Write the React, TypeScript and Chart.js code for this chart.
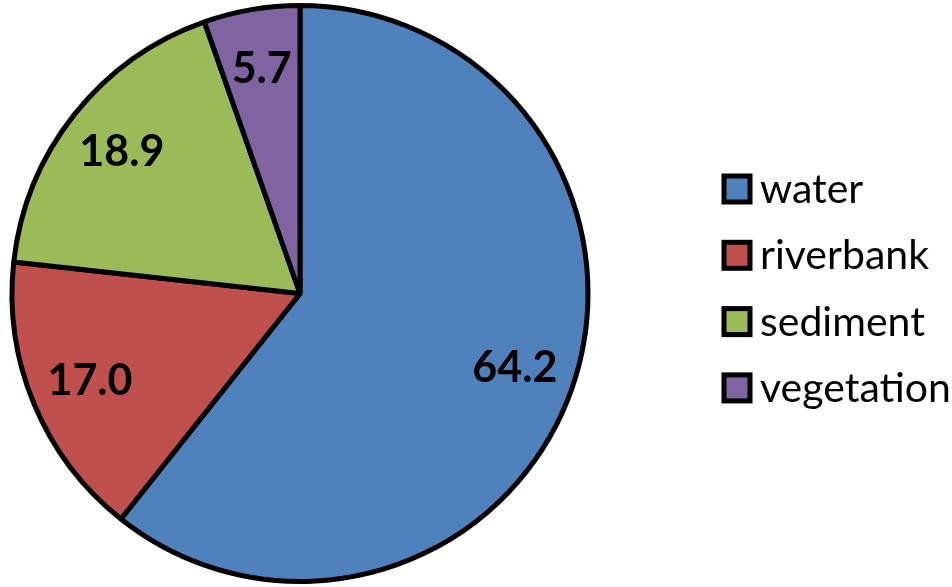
import React, { useEffect, useRef } from "react";
import { Chart, registerables } from "chart.js";

Chart.register(...registerables);

const categories = ["water", "riverbank", "sediment", "vegetation"];
const values = [64.2, 17.0, 18.9, 5.7];
const valueLabels = ["64.2", "17.0", "18.9", "5.7"];
const colors = ["#4F81BD", "#C0504D", "#9BBB59", "#8064A2"];

const sliceLabelPlugin = {
  id: "sliceLabels",
  afterDatasetsDraw(chart: any) {
    const ctx = chart.ctx;
    const meta = chart.getDatasetMeta(0);
    ctx.save();
    ctx.font = "bold 43px Lato";
    ctx.fillStyle = "#000";
    ctx.textAlign = "center";
    ctx.textBaseline = "middle";
    meta.data.forEach((arc: any, i: number) => {
      const p = arc.getProps(["x", "y", "startAngle", "endAngle", "outerRadius"], true);
      const mid = (p.startAngle + p.endAngle) / 2;
      const r = p.outerRadius * 0.79;
      ctx.fillText(valueLabels[i], p.x + Math.cos(mid) * r, p.y + Math.sin(mid) * r);
    });
    ctx.restore();
  },
};

const legendPlugin = {
  id: "customLegend",
  afterDraw(chart: any) {
    const ctx = chart.ctx;
    ctx.save();
    const boxX = 724;
    const box = 26;
    const top = 189;
    const step = 66.3;
    ctx.font = "41px Lato";
    ctx.textAlign = "left";
    ctx.textBaseline = "alphabetic";
    categories.forEach((c, i) => {
      const cy = top + i * step;
      ctx.fillStyle = colors[i];
      ctx.fillRect(boxX, cy - box / 2, box, box);
      ctx.lineWidth = 5;
      ctx.strokeStyle = "#000";
      ctx.strokeRect(boxX, cy - box / 2, box, box);
      ctx.fillStyle = "#000";
      ctx.fillText(c, 760, cy + 14);
    });
    ctx.restore();
  },
};

export default function App() {
  const ref = useRef<HTMLCanvasElement | null>(null);
  useEffect(() => {
    if (!ref.current) return;
    const chart = new Chart(ref.current, {
      type: "pie",
      data: {
        labels: categories,
        datasets: [
          {
            data: values,
            backgroundColor: colors,
            borderColor: "#000",
            borderWidth: 5,
          },
        ],
      },
      options: {
        animation: false,
        responsive: true,
        maintainAspectRatio: false,
        layout: { padding: { left: 0, right: 352, top: 3, bottom: 3 } },
        plugins: {
          legend: { display: false },
          tooltip: { enabled: false },
        },
      },
      plugins: [sliceLabelPlugin, legendPlugin],
    });
    return () => chart.destroy();
  }, []);
  return (
    <div style={{ position: "fixed", left: 0, top: 0, width: 952, height: 587, background: "#fff" }}>
      <canvas ref={ref} />
    </div>
  );
}
